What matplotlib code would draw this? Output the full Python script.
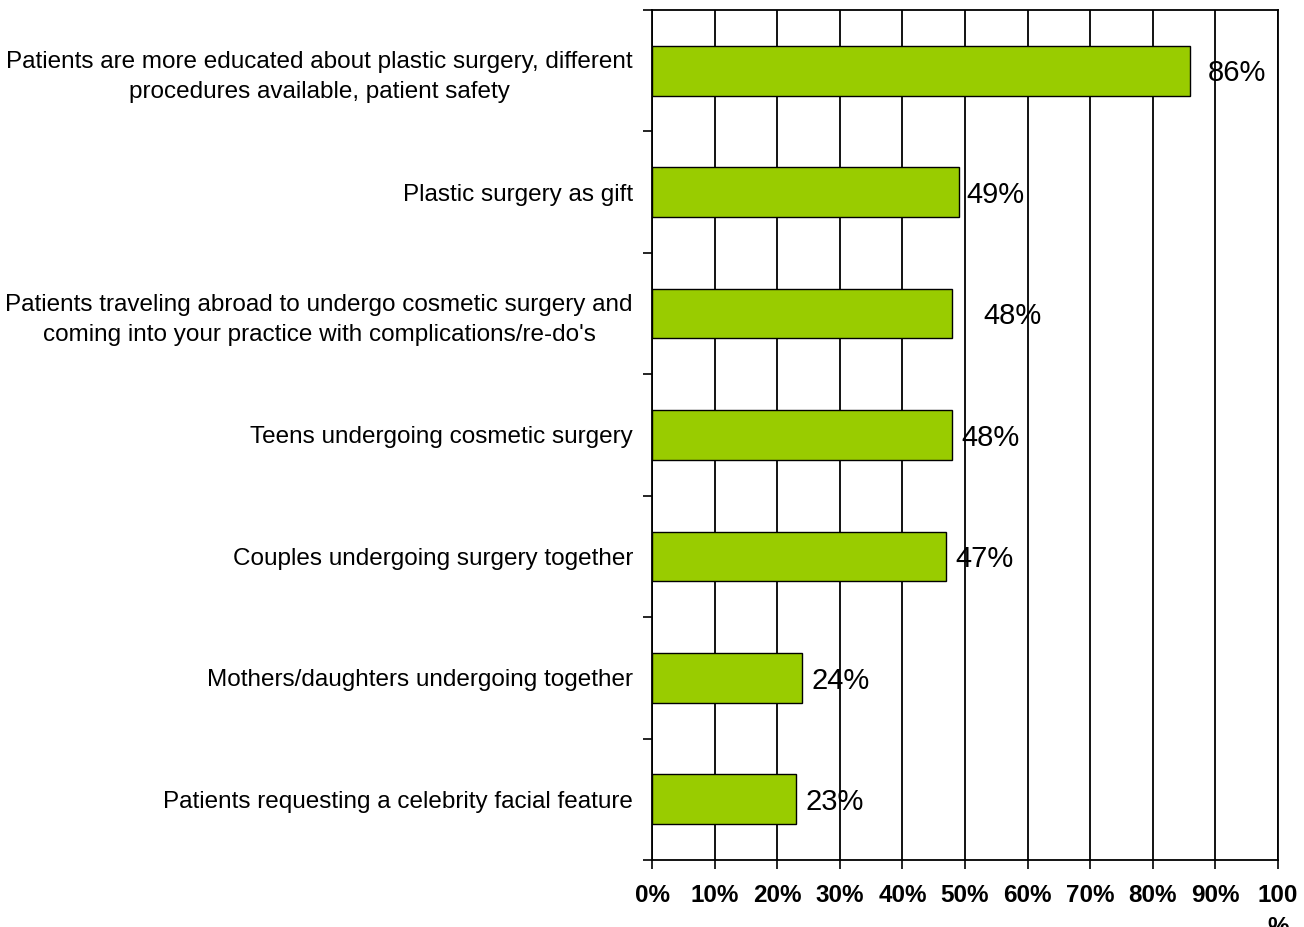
import matplotlib
matplotlib.use("Agg")
import matplotlib.pyplot as plt
from matplotlib.ticker import FixedLocator, FixedFormatter

plt.rcParams['font.family'] = ['Liberation Sans', 'DejaVu Sans']

categories = [
    "Patients are more educated about plastic surgery, different\nprocedures available, patient safety",
    "Plastic surgery as gift",
    "Patients traveling abroad to undergo cosmetic surgery and\ncoming into your practice with complications/re-do's",
    "Teens undergoing cosmetic surgery",
    "Couples undergoing surgery together",
    "Mothers/daughters undergoing together",
    "Patients requesting a celebrity facial feature",
]
values = [86, 49, 48, 48, 47, 24, 23]
value_labels = ["86%", "49%", "48%", "48%", "47%", "24%", "23%"]
x_ticks = [0, 10, 20, 30, 40, 50, 60, 70, 80, 90, 100]
x_tick_labels = ["0%", "10%", "20%", "30%", "40%", "50%", "60%", "70%", "80%", "90%", "100\n%"]

# label offsets (pixels) to the right of each bar end, as in the original
label_offsets_px = [17, 8, 31, 9, 9, 9, 10]

fig = plt.figure(figsize=(13.04, 9.27), dpi=100)
ax = fig.add_axes([652/1304, 1-860/927, (1278-652)/1304, (860-10)/927])

n = len(categories)
pos = list(range(n))
ax.barh(pos, values, height=0.41, color="#99CC00", edgecolor="black", linewidth=1.0, zorder=3)

ax.set_xlim(0, 100)
ax.set_ylim(n - 0.5, -0.5)

ax.set_xticks(x_ticks)
ax.set_xticklabels(x_tick_labels, fontsize=17.5, fontweight='bold', linespacing=1.5)
ax.tick_params(axis='x', direction='out', length=6.5, width=1.2, pad=11, colors='black')

# major y ticks at category boundaries, labels at centers via minor ticks
ax.yaxis.set_major_locator(FixedLocator([i - 0.5 for i in range(n + 1)]))
ax.yaxis.set_major_formatter(FixedFormatter([""] * (n + 1)))
ax.yaxis.set_minor_locator(FixedLocator(pos))
ax.yaxis.set_minor_formatter(FixedFormatter(categories))
ax.tick_params(axis='y', which='major', direction='out', length=6.5, width=1.2)
ax.tick_params(axis='y', which='minor', length=0, pad=13.7, labelsize=17.5)
for lbl in ax.get_yticklabels(minor=True):
    lbl.set_horizontalalignment('right')
    lbl.set_multialignment('center')
    lbl.set_linespacing(1.48)

ax.grid(axis='x', color='black', linewidth=1.3, zorder=1)
ax.set_axisbelow(True)
for s in ax.spines.values():
    s.set_color('black')
    s.set_linewidth(1.3)

for i, (v, t, off) in enumerate(zip(values, value_labels, label_offsets_px)):
    ax.annotate(t, xy=(v, i), xytext=(off * 0.72, -2), textcoords='offset points',
                ha='left', va='center', fontsize=21, zorder=5)

fig.savefig("out.png", dpi=100, facecolor='white')
